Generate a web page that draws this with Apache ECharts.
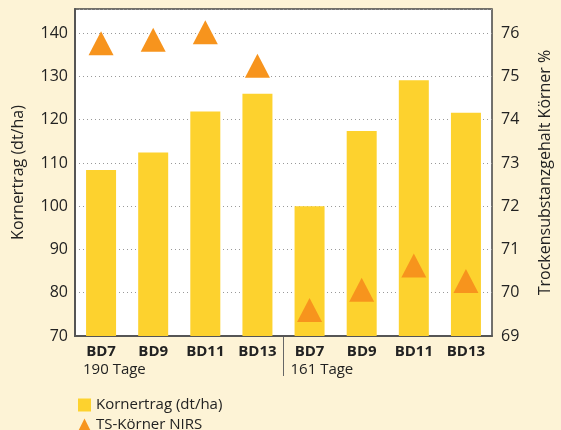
<!DOCTYPE html>
<html>
<head>
<meta charset="utf-8">
<script src="https://cdn.jsdelivr.net/npm/echarts@6/dist/echarts.min.js"></script>
<style>
  html, body { margin: 0; padding: 0; background: #fdf3d6; }
  #main { width: 561px; height: 430px; }
</style>
</head>
<body>
<div id="main"></div>
<script>
// BD-Sorten, zwei Saatzeiten
const categories = ['BD7', 'BD9', 'BD11', 'BD13', 'BD7', 'BD9', 'BD11', 'BD13']
const groups = ['190 Tage', '161 Tage']
const kornertrag = [108.4, 112.4, 121.9, 126.0, 100.0, 117.4, 129.1, 121.6]
const tsKoerner = [75.77, 75.85, 76.02, 75.25, 69.6, 70.07, 70.63, 70.27]

const font = 'Open Sans'
const chart = echarts.init(document.getElementById('main'))

const option = {
  backgroundColor: '#fdf3d6',
  textStyle: { fontFamily: font },
  animation: false,
  grid: {
    left: 75,
    right: 61,
    top: 9,
    bottom: 94,
    show: true,
    backgroundColor: '#fff',
    borderColor: '#444',
    borderWidth: 1.5
  },
  legend: {
    orient: 'vertical',
    left: 73,
    top: 391,
    height: 80,
    itemWidth: 13,
    itemHeight: 13,
    itemGap: 2,
    textStyle: { fontFamily: font, fontSize: 15, lineHeight: 18, color: '#222' },
    data: [
      { name: 'Kornertrag (dt/ha)', icon: 'rect' },
      { name: 'TS-Körner NIRS', icon: 'triangle' }
    ]
  },
  xAxis: {
    type: 'category',
    data: categories,
    axisLine: { lineStyle: { color: '#555', width: 2 } },
    axisTick: { show: false },
    axisLabel: {
      interval: 0,
      margin: 8,
      fontFamily: font,
      fontSize: 15,
      fontWeight: 'bold',
      color: '#222'
    }
  },
  yAxis: [
    {
      type: 'value',
      min: 70,
      max: 145.6,
      interval: 10,
      name: 'Kornertrag (dt/ha)',
      nameLocation: 'middle',
      nameGap: 49,
      nameTextStyle: { fontFamily: font, fontSize: 16, color: '#222' },
      axisLine: { show: true, lineStyle: { color: '#555', width: 2 } },
      axisTick: { show: false },
      axisLabel: { margin: 7, fontSize: 16, color: '#222', showMaxLabel: false },
      splitLine: { lineStyle: { color: '#999', type: [1, 3], width: 1 } }
    },
    {
      type: 'value',
      min: 69,
      max: 76.56,
      interval: 1,
      position: 'right',
      name: 'Trockensubstanzgehalt Körner %',
      nameLocation: 'middle',
      nameGap: 45,
      nameRotate: 90,
      nameTextStyle: { fontFamily: font, fontSize: 16, color: '#222' },
      axisLine: { show: false },
      axisTick: { show: false },
      axisLabel: { margin: 9, fontSize: 16, color: '#222', showMaxLabel: false },
      splitLine: { show: false }
    }
  ],
  series: [
    {
      name: 'Kornertrag (dt/ha)',
      type: 'bar',
      barWidth: 30,
      itemStyle: { color: '#fdd22e' },
      data: kornertrag
    },
    {
      name: 'TS-Körner NIRS',
      type: 'scatter',
      yAxisIndex: 1,
      symbol: 'triangle',
      symbolSize: [25, 24],
      itemStyle: { color: '#f7941d', opacity: 1 },
      data: tsKoerner
    }
  ]
}

chart.setOption(option)

// Gruppenbeschriftung + Trennlinie aus den Achsen berechnet
const xAt = i => chart.convertToPixel({ xAxisIndex: 0 }, i)
const band = xAt(1) - xAt(0)
const yBottom = chart.convertToPixel({ yAxisIndex: 0 }, 70)
const sepX = (xAt(3) + xAt(4)) / 2
const startX = [xAt(0) - band / 2, sepX]

chart.setOption({
  graphic: [
    {
      type: 'line',
      shape: { x1: sepX, y1: yBottom, x2: sepX, y2: yBottom + 40 },
      style: { stroke: '#666', lineWidth: 1 }
    },
    ...groups.map((g, i) => ({
      type: 'text',
      x: startX[i] + (i === 0 ? 8 : 7),
      y: yBottom + 26,
      style: { text: g, font: '15px "Open Sans"', fill: '#222', textVerticalAlign: 'top' }
    }))
  ]
})
</script>
</body>
</html>
